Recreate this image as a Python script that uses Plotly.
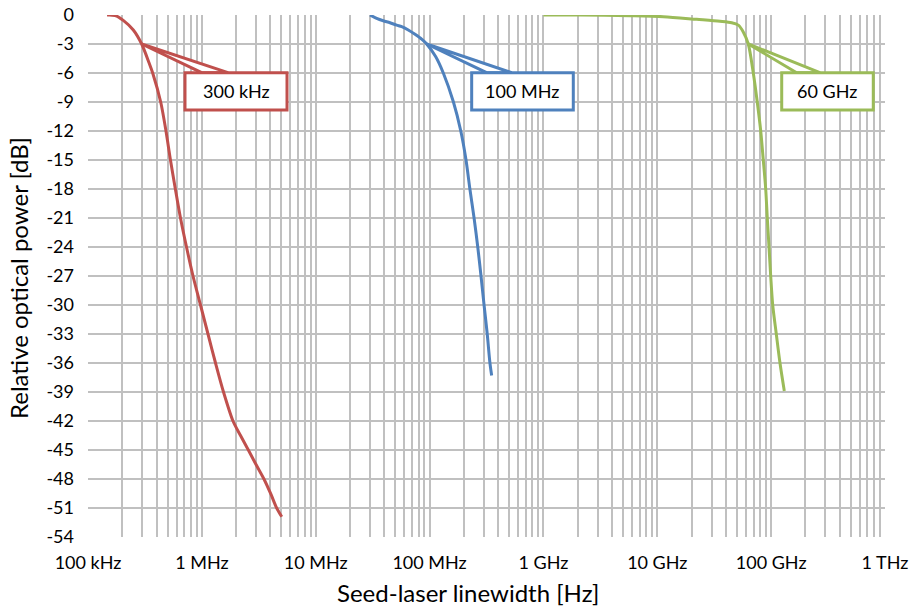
import numpy as np
import plotly.graph_objects as go

# ---------------- data ----------------
red_freq = [1.47e5, 1.73e5, 2.04e5, 2.50e5, 2.96e5, 3.45e5, 3.70e5, 4.35e5, 4.84e5, 5.30e5, 5.85e5,
            6.49e5, 7.33e5, 8.36e5, 9.73e5, 1.132e6, 1.318e6, 1.549e6, 1.877e6, 2.185e6, 2.56e6,
            2.99e6, 3.51e6, 4.05e6, 4.54e6, 5.03e6]
red_db = [0.0, -0.05, -0.55, -1.55, -3.0, -5.0, -6.0, -9.0, -12.0, -15.0, -18.0,
          -21.0, -24.0, -27.0, -30.0, -33.0, -36.0, -39.0, -42.0, -43.5, -45.0,
          -46.5, -48.0, -49.6, -51.0, -51.9]

blue_freq = [3.00e7, 3.43e7, 3.92e7, 4.49e7, 5.14e7, 5.69e7, 6.50e7, 7.45e7, 8.52e7, 9.43e7,
             1.13e8, 1.32e8, 1.62e8, 1.88e8, 2.09e8, 2.26e8, 2.46e8, 2.65e8, 2.83e8, 3.01e8,
             3.21e8, 3.39e8, 3.51e8]
blue_db = [0.0, -0.35, -0.6, -0.8, -1.05, -1.2, -1.55, -2.0, -2.5, -3.0,
           -4.3, -6.0, -9.0, -12.0, -15.0, -18.0, -21.0, -24.0, -27.0, -30.0,
           -33.0, -36.0, -37.3]

green_freq = [1.0e9, 2.09e9, 5.76e9, 1.13e10, 2.22e10, 3.55e10, 4.50e10, 5.15e10, 5.69e10, 6.30e10,
              6.97e10, 7.55e10, 8.10e10, 8.53e10, 8.96e10, 9.25e10, 9.58e10, 9.91e10, 1.032e11,
              1.110e11, 1.196e11, 1.305e11]
green_db = [0.0, 0.0, -0.07, -0.17, -0.45, -0.65, -0.8, -1.05, -1.75, -3.0,
            -6.0, -9.0, -12.0, -15.0, -18.0, -21.0, -24.0, -27.0, -30.0,
            -33.0, -36.0, -38.9]

callout_labels = ["300 kHz", "100 MHz", "60 GHz"]

x_decades = [1e5, 1e6, 1e7, 1e8, 1e9, 1e10, 1e11, 1e12]
x_decade_labels = ["100 kHz", "1 MHz", "10 MHz", "100 MHz", "1 GHz", "10 GHz", "100 GHz", "1 THz"]
y_ticks = list(range(0, -55, -3))

# ---------------- styles ----------------
RED = "#C0504D"
BLUE = "#4F81BD"
GREEN = "#9BBB59"
GRID = "#C0C0C0"
FONT = "Lato"

xtickvals, xticktext = [], []
for i, d in enumerate(x_decades):
    xtickvals.append(d)
    xticktext.append(x_decade_labels[i])
    if i < len(x_decades) - 1:
        for m in range(2, 10):
            xtickvals.append(d * m)
            xticktext.append("")

fig = go.Figure()
for fx, dy, col in [(red_freq, red_db, RED), (blue_freq, blue_db, BLUE), (green_freq, green_db, GREEN)]:
    fig.add_trace(go.Scatter(x=fx, y=dy, mode="lines",
                             line=dict(color=col, width=3, shape="spline", smoothing=0.8),
                             showlegend=False, hoverinfo="skip"))

XMIN, XMAX = 5, 12
YMIN, YMAX = -54, 0

def to_paper(f, db):
    return (np.log10(f) - XMIN) / (XMAX - XMIN), (db - YMIN) / (YMAX - YMIN)

boxes = [
    dict(x0=0.1217, x1=0.2497, wx=(0.1427, 0.1757)),
    dict(x0=0.4814, x1=0.6089, wx=(0.5002, 0.5316)),
    dict(x0=0.8704, x1=0.9853, wx=(0.8892, 0.9184)),
]
BOX_TOP, BOX_BOT = 0.8895, 0.818
shapes, annotations = [], []
for (fx, dy, col), b, lab in zip([(red_freq, red_db, RED), (blue_freq, blue_db, BLUE),
                                  (green_freq, green_db, GREEN)], boxes, callout_labels):
    k = dy.index(-3.0)
    tx, ty = to_paper(fx[k], dy[k])
    path = f"M {tx} {ty} L {b['wx'][0]} {BOX_TOP} L {b['wx'][1]} {BOX_TOP} Z"
    shapes.append(dict(type="path", xref="paper", yref="paper", path=path,
                       fillcolor="white", line=dict(color=col, width=3), layer="above"))
    shapes.append(dict(type="rect", xref="paper", yref="paper", x0=b["x0"], x1=b["x1"],
                       y0=BOX_BOT, y1=BOX_TOP, fillcolor="white",
                       line=dict(color=col, width=3), layer="above"))
    annotations.append(dict(xref="paper", yref="paper", x=(b["x0"] + b["x1"]) / 2,
                            y=(BOX_TOP + BOX_BOT) / 2, text=lab, showarrow=False,
                            font=dict(family=FONT, size=18, color="black"),
                            xanchor="center", yanchor="middle"))

annotations.append(dict(xref="paper", yref="paper", x=(468 - 88) / 797, y=-(592 - 537) / 522,
                        text="Seed-laser linewidth [Hz]", showarrow=False,
                        font=dict(family=FONT, size=24, color="black"),
                        xanchor="center", yanchor="middle"))
annotations.append(dict(xref="paper", yref="paper", x=-(88 - 18) / 797, y=(537 - 278) / 522,
                        text="Relative optical power [dB]", showarrow=False, textangle=-90,
                        font=dict(family=FONT, size=24, color="black"),
                        xanchor="center", yanchor="middle"))

fig.update_layout(
    width=923, height=608,
    margin=dict(l=88, r=38, t=15, b=71, autoexpand=False),
    paper_bgcolor="white", plot_bgcolor="white",
    font=dict(family=FONT, size=18, color="black"),
    shapes=shapes, annotations=annotations,
    xaxis=dict(type="log", range=[XMIN, XMAX], tickvals=xtickvals, ticktext=xticktext,
               showgrid=True, gridcolor=GRID, gridwidth=1.5, zeroline=False,
               showline=False, ticks="", ticklabelstandoff=13,
               tickfont=dict(family=FONT, size=18, color="black")),
    yaxis=dict(range=[YMIN, YMAX], tickvals=y_ticks, ticktext=[str(v) for v in y_ticks],
               showgrid=True, gridcolor=GRID, gridwidth=1.5, zeroline=False,
               showline=False, ticks="", ticklabelstandoff=13,
               tickfont=dict(family=FONT, size=18, color="black")),
)

fig.write_html("out.html")
